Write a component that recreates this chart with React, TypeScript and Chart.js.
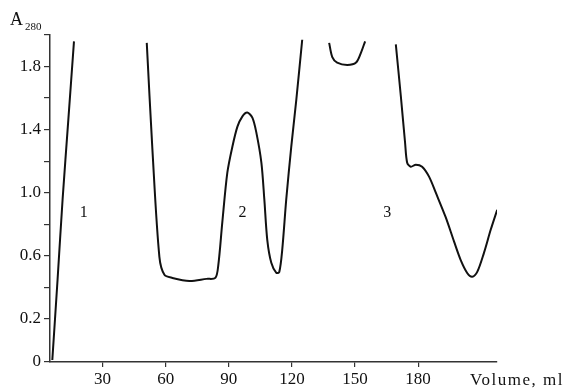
import { useEffect, useRef } from 'react';
import { Chart, registerables } from 'chart.js';

Chart.register(...registerables);

// Elution profile, segments between off-scale regions
const seg1Vol = [6.1, 8.6, 11.0, 13.7, 16.4];
const seg1Abs = [-0.06, 0.45, 0.96, 1.46, 1.96];

const seg2Vol = [51.0, 53.7, 57.0, 59.4, 63.2, 71.3, 79.4, 83.6, 85.0, 86.9, 89.3, 91.7, 94.1, 96.4, 98.8, 101.2, 103.1, 105.5, 106.9, 108.3, 110.2, 112.6, 114.0, 115.4, 117.3, 119.7, 122.1, 124.9];
const seg2Abs = [1.95, 1.27, 0.594, 0.48, 0.46, 0.441, 0.454, 0.46, 0.54, 0.81, 1.127, 1.292, 1.419, 1.483, 1.508, 1.476, 1.381, 1.19, 0.956, 0.7, 0.556, 0.492, 0.498, 0.638, 0.956, 1.292, 1.59, 1.97];

const seg3Vol = [137.7, 139.2, 141.5, 146.3, 150.5, 152.9, 154.8];
const seg3Abs = [1.95, 1.86, 1.825, 1.81, 1.825, 1.89, 1.96];

const seg4Vol = [169.4, 171.8, 173.8, 174.8, 176.5, 178.9, 181.9, 185.2, 188.4, 193.1, 197.1, 200.2, 203.4, 205.7, 208.1, 211.3, 214.5, 217.6];
const seg4Abs = [1.94, 1.61, 1.317, 1.19, 1.165, 1.178, 1.165, 1.102, 1.0, 0.845, 0.69, 0.575, 0.49, 0.467, 0.498, 0.619, 0.765, 0.892];

const peakLabels = ['1', '2', '3'];
const peakLabelVol = [21, 96.5, 165.3];
const peakLabelAbs = [0.87, 0.87, 0.87];

const xTicks = [30, 60, 90, 120, 150, 180];
const X_MIN = 5;
const X_MAX = 217.5;
const Y_MIN = -0.073;
const Y_MAX = 2.0;
const yTicks = [Y_MIN, 0.2, 0.4, 0.6, 0.8, 1.0, 1.2, 1.4, 1.6, 1.8, 2.0];
const yTickLabels = ['0', '0.2', '', '0.6', '', '1.0', '', '1.4', '', '1.8', ''];

const FONT = '"Liberation Serif", "Times New Roman", serif';
const AXIS_COLOR = '#333';

function toPoints(xs: number[], ys: number[]) {
  return xs.map((x, i) => ({ x, y: ys[i] }));
}

const textPlugin = {
  id: 'texts',
  afterDraw(chart: any) {
    const { ctx, chartArea, scales } = chart;
    ctx.save();
    ctx.fillStyle = '#111';
    ctx.font = `16px ${FONT}`;
    ctx.textAlign = 'center';
    ctx.textBaseline = 'middle';
    peakLabels.forEach((t, i) => {
      ctx.fillText(t, scales.x.getPixelForValue(peakLabelVol[i]), scales.y.getPixelForValue(peakLabelAbs[i]));
    });
    ctx.font = `17px ${FONT}`;
    ctx.textAlign = 'left';
    ctx.textBaseline = 'middle';
    (ctx as any).letterSpacing = '1.5px';
    ctx.fillText('Volume, ml', chartArea.right - 27, chartArea.bottom + 19);
    (ctx as any).letterSpacing = '0px';
    ctx.font = `18px ${FONT}`;
    ctx.textBaseline = 'alphabetic';
    ctx.fillText('A', chartArea.left - 40, chartArea.top - 10);
    ctx.font = `11px ${FONT}`;
    ctx.fillText('280', chartArea.left - 25, chartArea.top - 5);
    ctx.restore();
  },
};

export default function App() {
  const ref = useRef<HTMLCanvasElement>(null);
  useEffect(() => {
    document.body.style.margin = '0';
    const lineDs = (xs: number[], ys: number[]) => ({
      data: toPoints(xs, ys),
      borderColor: '#111',
      borderWidth: 2,
      pointRadius: 0,
      fill: false,
      tension: 0.3,
    });
    const chart = new Chart(ref.current!, {
      type: 'line',
      data: {
        datasets: [
          lineDs(seg1Vol, seg1Abs),
          lineDs(seg2Vol, seg2Abs),
          lineDs(seg3Vol, seg3Abs),
          lineDs(seg4Vol, seg4Abs),
        ],
      },
      options: {
        animation: false,
        responsive: false,
        layout: { padding: { top: 35, right: 69, left: 0, bottom: 0 } },
        plugins: { legend: { display: false }, tooltip: { enabled: false } },
        scales: {
          x: {
            type: 'linear',
            min: X_MIN,
            max: X_MAX,
            afterBuildTicks: (s: any) => {
              s.ticks = xTicks.map((v) => ({ value: v }));
            },
            afterFit: (s: any) => {
              s.height = 28;
            },
            border: { display: true, color: AXIS_COLOR, width: 1.5 },
            grid: { display: true, drawOnChartArea: false, drawTicks: true, tickLength: 5, color: AXIS_COLOR, lineWidth: 1.2 },
            ticks: {
              color: '#111',
              font: { family: FONT, size: 17 },
              padding: 2,
              maxRotation: 0,
              autoSkip: false,
              callback: (v: any) => String(v),
            },
          },
          y: {
            type: 'linear',
            min: Y_MIN,
            max: Y_MAX,
            afterBuildTicks: (s: any) => {
              s.ticks = yTicks.map((v) => ({ value: v }));
            },
            afterFit: (s: any) => {
              s.width = 50;
            },
            border: { display: true, color: AXIS_COLOR, width: 1.5 },
            grid: { display: true, drawOnChartArea: false, drawTicks: true, tickLength: 6, color: AXIS_COLOR, lineWidth: 1.2 },
            ticks: {
              color: '#111',
              font: { family: FONT, size: 17 },
              padding: 3,
              autoSkip: false,
              callback: (_v: any, i: number) => yTickLabels[i],
            },
          },
        },
      },
      plugins: [textPlugin],
    });
    return () => chart.destroy();
  }, []);
  return <canvas ref={ref} width={566} height={390} style={{ display: 'block' }} />;
}
